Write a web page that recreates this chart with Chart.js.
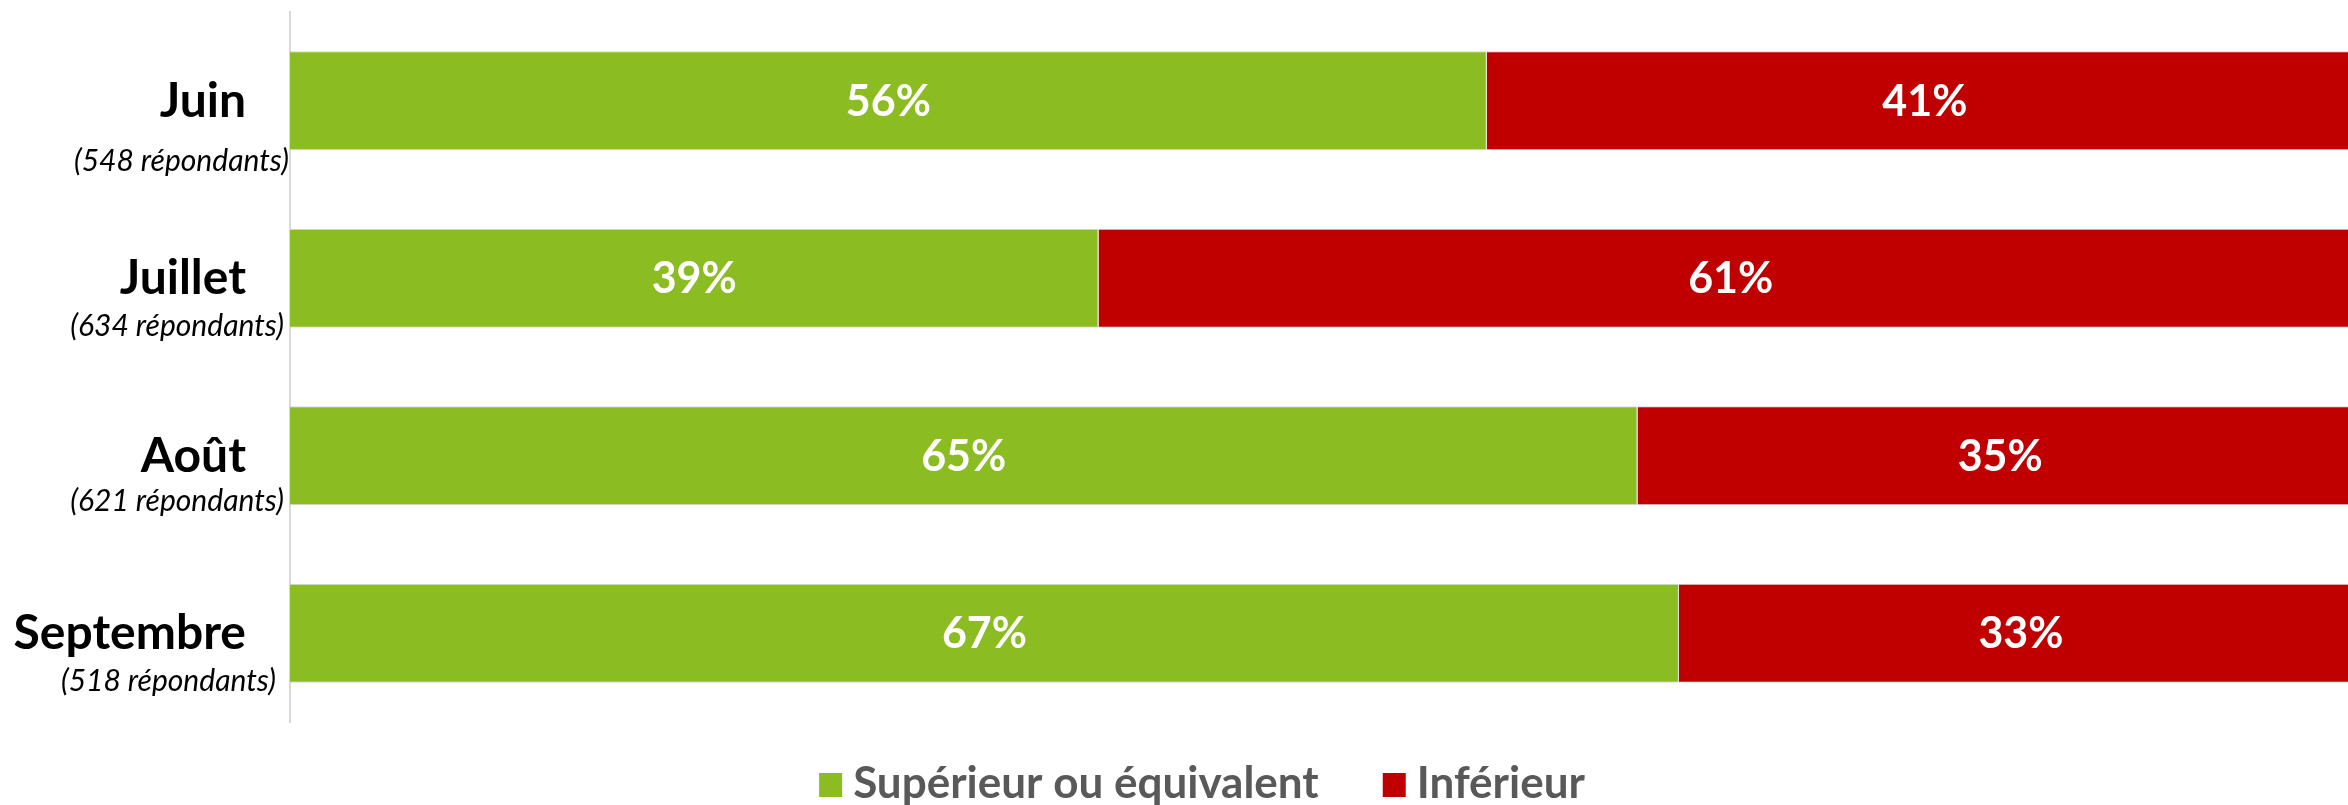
<!DOCTYPE html>
<html><head><meta charset="utf-8">
<script src="https://cdn.jsdelivr.net/npm/chart.js@4.4.0/dist/chart.umd.min.js"></script>
<style>
html,body{margin:0;padding:0;overflow:hidden;background:#fff;}
#wrap{position:relative;width:2404px;height:805px;}
canvas{display:block;}
</style></head><body>
<div id="wrap"><canvas id="c" width="2404" height="805"></canvas></div>
<script>
// ---- data ----
const months = ['Juin', 'Juillet', 'Août', 'Septembre'];
const respondents = ['(548 répondants)', '(634 répondants)', '(621 répondants)', '(518 répondants)'];
const superieur = [56, 39, 65, 67];
const inferieur = [41, 61, 35, 33];
const seriesNames = ['Supérieur ou équivalent', 'Inférieur'];
const seriesColors = ['#8BBC21', '#C00000'];

// 100% stacked: each bar normalised to its own total
const totals = superieur.map((v, i) => v + inferieur[i]);
const share = arr => arr.map((v, i) => v / totals[i] * 100);

const FONT = 'Lato, "Open Sans", sans-serif';

const labelLayout = {
  monthRight: 246, monthDy: 16,
  subRight: [289, 284, 284, 276], subDy: [70, 58, 55, 58]
};

const drawPlugin = {
  id: 'drawLabels',
  afterDatasetsDraw(chart) {
    const ctx = chart.ctx;
    ctx.save();
    ctx.fillStyle = '#ffffff';
    ctx.font = 'bold 43px ' + FONT;
    ctx.textAlign = 'center';
    ctx.textBaseline = 'alphabetic';
    chart.data.datasets.forEach((ds, di) => {
      const meta = chart.getDatasetMeta(di);
      meta.data.forEach((el, i) => {
        const cx = (el.x + el.base) / 2;
        ctx.fillText(ds.raw[i] + '%', cx, el.y + 15);
      });
    });
    ctx.restore();
  },
  afterDraw(chart) {
    const ctx = chart.ctx;
    const ys = chart.scales.y;
    ctx.save();
    ctx.fillStyle = '#000000';
    ctx.textBaseline = 'alphabetic';
    ctx.textAlign = 'right';
    chart.data.labels.forEach((lab, i) => {
      const y = ys.getPixelForValue(i);
      ctx.font = 'bold 48px ' + FONT;
      ctx.fillText(lab, labelLayout.monthRight, y + labelLayout.monthDy);
      ctx.font = 'italic 30px ' + FONT;
      ctx.fillText(respondents[i], labelLayout.subRight[i], y + labelLayout.subDy[i]);
    });
    // legend
    const boxW = 23, boxH = 24, gap = 11, itemGap = 64;
    ctx.font = 'bold 44px ' + FONT;
    const items = chart.data.datasets.map(ds => ({text: ds.label, color: ds.backgroundColor, w: ctx.measureText(ds.label).width}));
    let total = 0;
    items.forEach((it, k) => { total += boxW + gap + it.w + (k < items.length - 1 ? itemGap : 0); });
    let x = 1202 - total / 2;
    ctx.textAlign = 'left';
    items.forEach(it => {
      ctx.fillStyle = it.color;
      ctx.fillRect(x, 773, boxW, boxH);
      x += boxW + gap;
      ctx.fillStyle = '#595959';
      ctx.fillText(it.text, x, 798);
      x += it.w + itemGap;
    });
    ctx.restore();
  }
};

new Chart(document.getElementById('c'), {
  type: 'bar',
  data: {
    labels: months,
    datasets: [
      {label: seriesNames[0], data: share(superieur), raw: superieur, backgroundColor: seriesColors[0],
       borderColor: '#d9d9d9', borderWidth: 1, barPercentage: 0.558, categoryPercentage: 1},
      {label: seriesNames[1], data: share(inferieur), raw: inferieur, backgroundColor: seriesColors[1],
       borderColor: '#d9d9d9', borderWidth: 1, barPercentage: 0.558, categoryPercentage: 1}
    ]
  },
  options: {
    indexAxis: 'y',
    responsive: false,
    animation: false,
    layout: {padding: {top: 12, bottom: 83, left: 0, right: 41}},
    plugins: {legend: {display: false}, tooltip: {enabled: false}},
    scales: {
      x: {stacked: true, min: 0, max: 100, display: false},
      y: {stacked: true, grid: {display: false}, ticks: {display: false},
          border: {display: true, color: '#d9d9d9', width: 2},
          afterFit(s) { s.width = 290; }}
    }
  },
  plugins: [drawPlugin]
});
</script>
</body></html>
